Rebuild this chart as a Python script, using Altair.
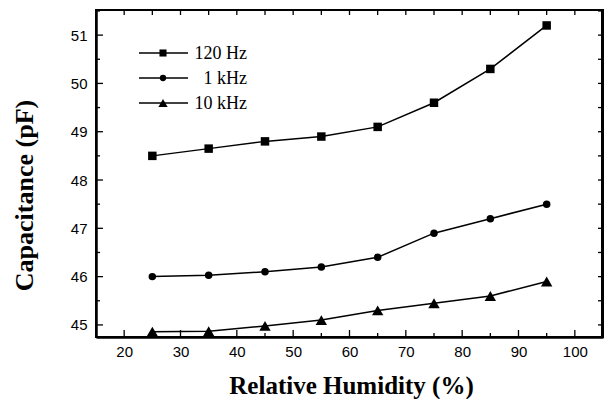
import altair as alt
import pandas as pd

humidity = [25, 35, 45, 55, 65, 75, 85, 95]
cap_120hz = [48.5, 48.65, 48.8, 48.9, 49.1, 49.6, 50.3, 51.2]
cap_1khz = [46.0, 46.03, 46.1, 46.2, 46.4, 46.9, 47.2, 47.5]
cap_10khz = [44.86, 44.87, 44.98, 45.1, 45.3, 45.45, 45.6, 45.9]
series = ["120 Hz", "1 kHz", "10 kHz"]
shapes = ["square", "circle", "triangle-up"]
marker_sizes = [72, 56, 130]
legend_sizes = [50, 40, 85]

x_major = [20, 30, 40, 50, 60, 70, 80, 90, 100]
x_minor = [15, 25, 35, 45, 55, 65, 75, 85, 95, 105]
y_major = [45, 46, 47, 48, 49, 50, 51]
y_minor = [45.5, 46.5, 47.5, 48.5, 49.5, 50.5, 51.5]

W, H = 507, 327
X_DOM = [15, 105]
Y_DOM = [44.75, 51.52]

values = [cap_120hz, cap_1khz, cap_10khz]

xs = alt.Scale(domain=X_DOM, nice=False, zero=False)
ys = alt.Scale(domain=Y_DOM, nice=False, zero=False)

x_axis = alt.Axis(
    values=x_major, title="Relative Humidity (%)", tickSize=0, labelPadding=7,
    labelFont="Liberation Sans", labelFontSize=15, labelColor="black",
    titleFont="Liberation Serif", titleFontSize=25, titleFontWeight="bold", titleColor="black",
    titleX=255, titleY=48, titleBaseline="middle", titleAlign="center",
    domainColor="black", domainWidth=2.5, grid=False)
y_axis = alt.Axis(
    values=y_major, title="Capacitance (pF)", tickSize=0, labelPadding=9,
    labelFont="Liberation Sans", labelFontSize=15, labelColor="black",
    titleFont="Liberation Serif", titleFontSize=26, titleFontWeight="bold", titleColor="black",
    titleX=-72, titleY=185, titleBaseline="middle", titleAlign="center", titleAngle=-90,
    domainColor="black", domainWidth=2.5, grid=False)

layers = []
for i, (name, vals, shp, sz) in enumerate(zip(series, values, shapes, marker_sizes)):
    d = pd.DataFrame({"rh": humidity, "cap": vals})
    base = alt.Chart(d)
    layers.append(base.mark_line(color="black", strokeWidth=1.5).encode(
        x=alt.X("rh:Q", scale=xs, axis=x_axis),
        y=alt.Y("cap:Q", scale=ys, axis=y_axis if i == 0 else None)))
    layers.append(base.mark_point(filled=True, color="black", opacity=1, shape=shp, size=sz).encode(
        x=alt.X("rh:Q", scale=xs, axis=x_axis),
        y=alt.Y("cap:Q", scale=ys, axis=None)))

# inward ticks
def xticks(vals, length, top=False):
    d = pd.DataFrame({"rh": vals})
    if top:
        yv, y2v = 0, length
    else:
        yv, y2v = H, H - length
    return alt.Chart(d).mark_rule(color="black", strokeWidth=1.3).encode(
        x=alt.X("rh:Q", scale=xs, axis=x_axis), y=alt.value(yv), y2=alt.value(y2v))

def yticks(vals, length, right=False):
    d = pd.DataFrame({"cap": vals})
    if right:
        xv, x2v = W, W - length
    else:
        xv, x2v = 0, length
    return alt.Chart(d).mark_rule(color="black", strokeWidth=1.3).encode(
        y=alt.Y("cap:Q", scale=ys, axis=None), x=alt.value(xv), x2=alt.value(x2v))

layers += [
    xticks(x_major, 7), xticks(x_minor, 4),
    xticks(x_major + x_minor, 5, top=True),
    yticks(y_major, 7), yticks(y_minor, 4),
    yticks(y_major + y_minor, 5, right=True),
]

# frame (top and right edges)
layers.append(alt.Chart(pd.DataFrame({"k": [0]})).mark_rule(color="black", strokeWidth=2).encode(
    x=alt.value(0), x2=alt.value(W), y=alt.value(0)))
layers.append(alt.Chart(pd.DataFrame({"k": [0]})).mark_rule(color="black", strokeWidth=2).encode(
    x=alt.value(W - 1), y=alt.value(0), y2=alt.value(H)))

# legend
leg_y_scale = alt.Scale(type="point", domain=series, range=[43, 93], padding=0)
leg = pd.DataFrame({"series": series})
ly = alt.Y("series:N", scale=leg_y_scale, axis=None)
layers.append(alt.Chart(leg).mark_rule(color="black", strokeWidth=1.5).encode(
    y=ly, x=alt.value(43), x2=alt.value(92)))
for name, shp, sz in zip(series, shapes, legend_sizes):
    layers.append(alt.Chart(pd.DataFrame({"series": [name]})).mark_point(
        filled=True, color="black", opacity=1, shape=shp, size=sz).encode(
        y=alt.Y("series:N", scale=leg_y_scale, axis=None), x=alt.value(67)))
layers.append(alt.Chart(leg).mark_text(align="right", baseline="middle", font="Liberation Serif",
                                       fontSize=18, color="black", dy=1).encode(
    y=ly, x=alt.value(151), text="series:N"))

chart = alt.layer(*layers).resolve_scale(y="independent").properties(
    width=W, height=H,
    autosize=alt.AutoSizeParams(type="none"),
    padding={"left": 96, "top": 10, "right": 1, "bottom": 62},
).configure(background="white").configure_view(stroke="black", strokeWidth=2)

chart.save("out.html", embed_options={"renderer": "svg", "actions": False})
